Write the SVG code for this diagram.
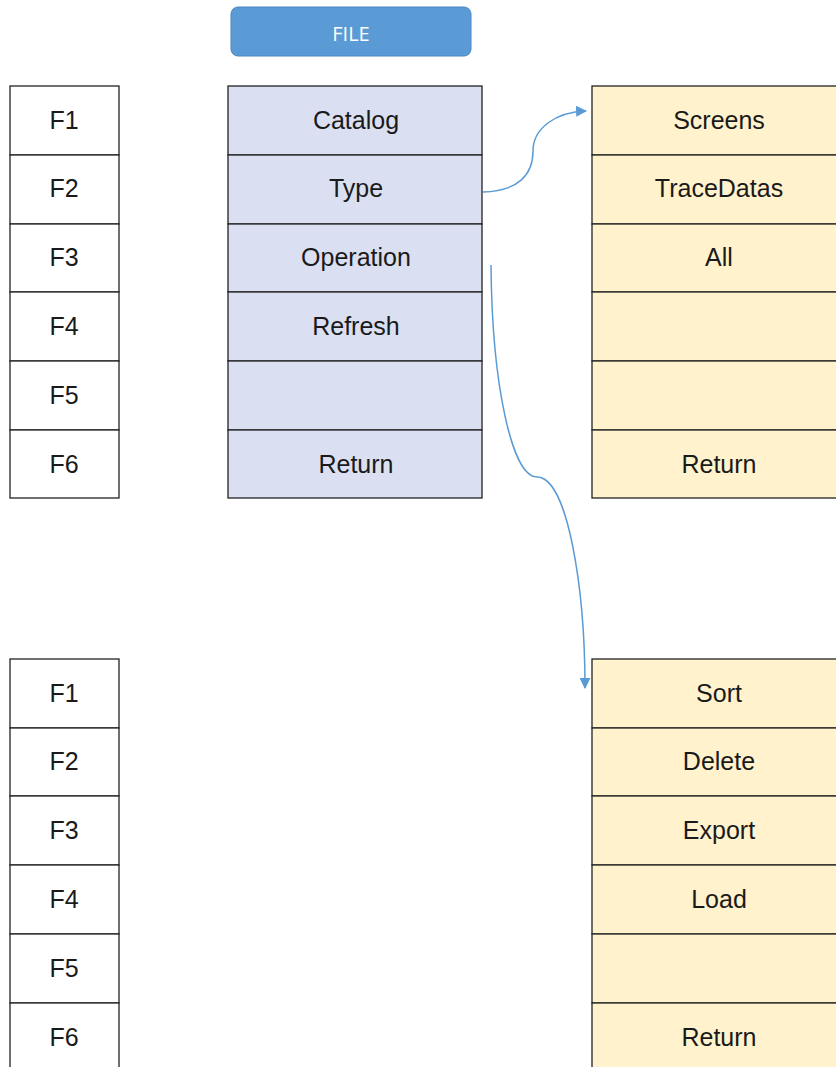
<svg xmlns="http://www.w3.org/2000/svg" width="836" height="1067" viewBox="0 0 836 1067">
<style>
.c{stroke:#222;stroke-width:1.3}
.w{fill:#fff}
.b{fill:#dae0f2}
.y{fill:#fff2cc}
text{font-family:"Liberation Sans",Arial,sans-serif;font-size:25px;fill:#1a1a1a;text-anchor:middle}
.lnk{fill:none;stroke:#5b9bd5;stroke-width:1.5}
</style>
<defs>
<marker id="ah" viewBox="0 0 10 10" refX="9" refY="5" markerWidth="11" markerHeight="11" markerUnits="userSpaceOnUse" orient="auto">
<path d="M0,0 L10,5 L0,10 z" fill="#5b9bd5"/>
</marker>
</defs>
<g id="file-btn">
<rect x="231" y="7" width="240" height="49" rx="7" fill="#5b9bd5" stroke="#4a86c0" stroke-width="1"/>
<text x="351" y="41" style="fill:#fff;font-family:'Open Sans',sans-serif;font-size:20px">FILE</text>
</g>
<g id="fkeys-top">
<rect class="c w" x="10" y="86" width="109" height="69"/><text x="64" y="129">F1</text>
<rect class="c w" x="10" y="155" width="109" height="69"/><text x="64" y="197">F2</text>
<rect class="c w" x="10" y="224" width="109" height="68"/><text x="64" y="266">F3</text>
<rect class="c w" x="10" y="292" width="109" height="69"/><text x="64" y="335">F4</text>
<rect class="c w" x="10" y="361" width="109" height="69"/><text x="64" y="404">F5</text>
<rect class="c w" x="10" y="430" width="109" height="68"/><text x="64" y="473">F6</text>
</g>
<g id="file-menu">
<rect class="c b" x="228" y="86" width="254" height="69"/><text x="356" y="129">Catalog</text>
<rect class="c b" x="228" y="155" width="254" height="69"/><text x="356" y="197">Type</text>
<rect class="c b" x="228" y="224" width="254" height="68"/><text x="356" y="266">Operation</text>
<rect class="c b" x="228" y="292" width="254" height="69"/><text x="356" y="335">Refresh</text>
<rect class="c b" x="228" y="361" width="254" height="69"/>
<rect class="c b" x="228" y="430" width="254" height="68"/><text x="356" y="473">Return</text>
</g>
<g id="type-menu">
<rect class="c y" x="592" y="86" width="260" height="69"/><text x="719" y="129">Screens</text>
<rect class="c y" x="592" y="155" width="260" height="69"/><text x="719" y="197">TraceDatas</text>
<rect class="c y" x="592" y="224" width="260" height="68"/><text x="719" y="266">All</text>
<rect class="c y" x="592" y="292" width="260" height="69"/>
<rect class="c y" x="592" y="361" width="260" height="69"/>
<rect class="c y" x="592" y="430" width="260" height="68"/><text x="719" y="473">Return</text>
</g>
<g id="fkeys-bottom">
<rect class="c w" x="10" y="659" width="109" height="69"/><text x="64" y="702">F1</text>
<rect class="c w" x="10" y="728" width="109" height="68"/><text x="64" y="770">F2</text>
<rect class="c w" x="10" y="796" width="109" height="69"/><text x="64" y="839">F3</text>
<rect class="c w" x="10" y="865" width="109" height="69"/><text x="64" y="908">F4</text>
<rect class="c w" x="10" y="934" width="109" height="69"/><text x="64" y="977">F5</text>
<rect class="c w" x="10" y="1003" width="109" height="80"/><text x="64" y="1046">F6</text>
</g>
<g id="operation-menu">
<rect class="c y" x="592" y="659" width="260" height="69"/><text x="719" y="702">Sort</text>
<rect class="c y" x="592" y="728" width="260" height="68"/><text x="719" y="770">Delete</text>
<rect class="c y" x="592" y="796" width="260" height="69"/><text x="719" y="839">Export</text>
<rect class="c y" x="592" y="865" width="260" height="69"/><text x="719" y="908">Load</text>
<rect class="c y" x="592" y="934" width="260" height="69"/>
<rect class="c y" x="592" y="1003" width="260" height="80"/><text x="719" y="1046">Return</text>
</g>
<g id="connectors">
<path class="lnk" d="M483,192 C518,191 533,175 533,151 C533,128 556,112 586,111" marker-end="url(#ah)"/>
<path class="lnk" d="M491,265 C492,385 512,477 537,477 C568,477 585,590 585,688" marker-end="url(#ah)"/>
</g>
</svg>
